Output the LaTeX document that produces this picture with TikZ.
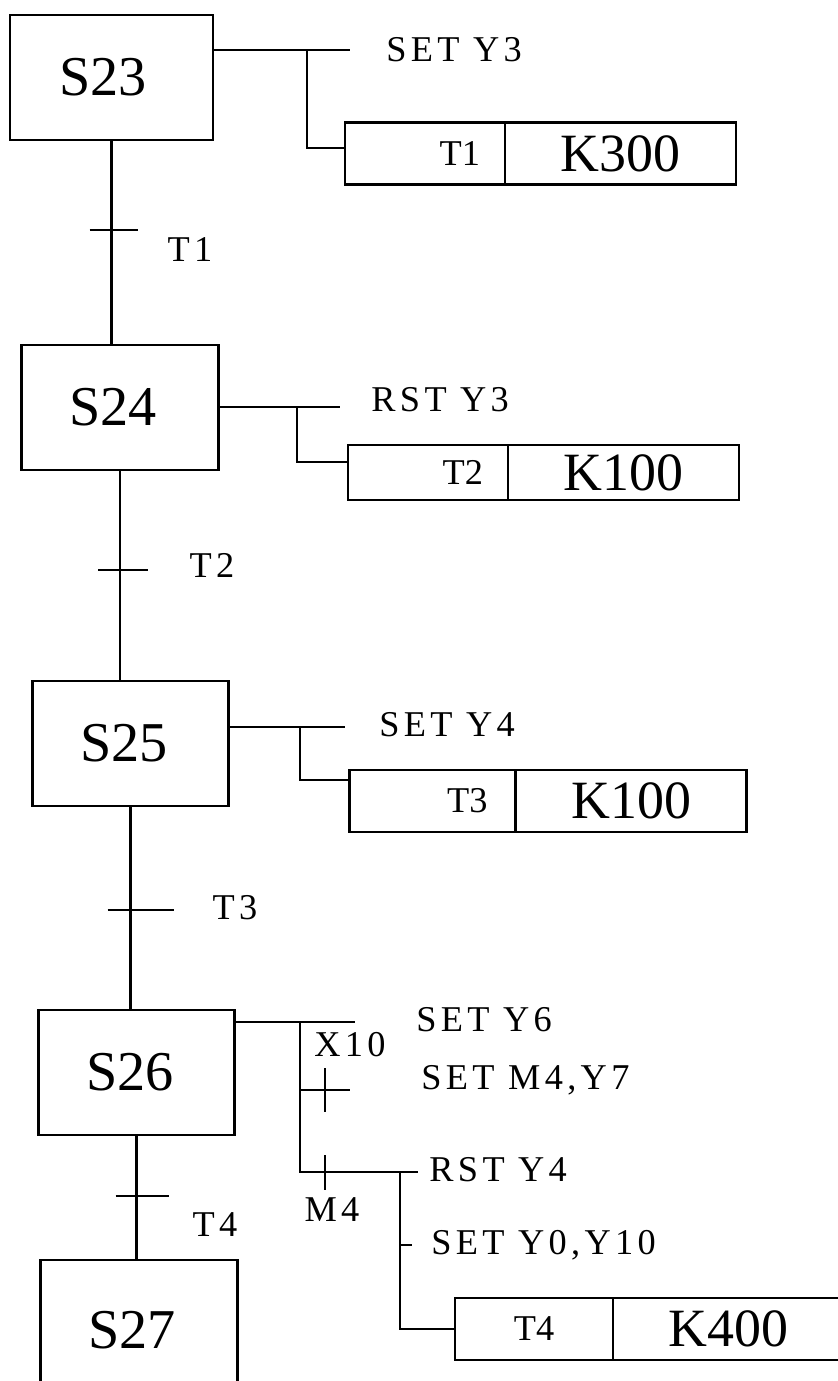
\documentclass[tikz,border=0pt]{standalone}
\usepackage{fontspec}
\setmainfont{Liberation Serif}
\newfontfamily\plcfont[LetterSpace=12]{Liberation Serif}
\usetikzlibrary{positioning}

\begin{document}
\begin{tikzpicture}[x=0.03cm,y=-0.03cm,line width=2.4pt,
  stepbox/.style={draw,outer sep=0pt,minimum width=5.9cm,minimum height=3.75cm,font=\fontsize{48}{48}\selectfont},
  tcell/.style={draw,outer sep=0pt,minimum width=4.8cm,minimum height=1.86cm,font=\fontsize{31}{31}\selectfont},
  kcell/.style={draw,outer sep=0pt,minimum width=6.93cm,minimum height=1.86cm,font=\fontsize{46}{46}\selectfont},
  act/.style={anchor=west,inner sep=0pt,font=\fontsize{31}{31}\plcfont},
  lbl/.style={inner sep=0pt,font=\fontsize{31}{31}\plcfont}]
\useasboundingbox (0,0) rectangle (837,1381);
% steps
\node[stepbox,minimum width=6.09cm] (S23) at (111.5,77.5) {S23\hspace*{0.5cm}};
\node[stepbox] (S24) at (120,407.5) {S24\hspace*{0.4cm}};
\node[stepbox] (S25) at (130.5,743.5) {S25\hspace*{0.4cm}};
\node[stepbox] (S26) at (136.5,1072.5) {S26\hspace*{0.4cm}};
\node[stepbox,minimum height=4.2cm] (S27) at (139,1330) {S27\hspace*{0.4cm}};
% transitions
\draw (S23.south) -- (S23.south |- S24.north);
\draw (S24.south) -- (S24.south |- S25.north);
\draw (S25.south) -- (S25.south |- S26.north);
\draw (S26.south) -- (S26.south |- S27.north);
\coordinate (tr1) at (S23.south |- 0,230);
\coordinate (tr2) at (S24.south |- 0,570);
\coordinate (tr3) at (S25.south |- 0,910);
\coordinate (tr4) at (S26.south |- 0,1196);
\draw (tr1) ++(-22,0) -- ++(48,0);
\draw (tr2) ++(-22,0) -- ++(50,0);
\draw (tr3) ++(-23,0) -- ++(66,0);
\draw (tr4) ++(-21,0) -- ++(53,0);
\node[lbl] (l1) at (190,250) {T1};
\node[lbl] (l2) at (212,565) {T2};
\node[lbl] (l3) at (235,908) {T3};
\node[lbl] (l4) at (215,1225) {T4};
% S23 actions
\node[act] (a23) at (385,50) {SET Y3};
\node[tcell,text width=3.3cm,inner xsep=0.75cm,align=right] (T1c) at (425,153.5) {T1};
\node[kcell,right=0pt of T1c] (K1c) {K300};
\coordinate (e23) at (350,50);
\coordinate (b23) at (307,50);
\draw (S23.east |- e23) -- (e23);
\draw (b23) |- (T1c.west |- 0,148);
% S24 actions
\node[act] (a24) at (370,400) {RST Y3};
\node[tcell,minimum height=1.65cm,text width=3.3cm,inner xsep=0.7cm,align=right] (T2c) at (428,472.5) {T2};
\node[kcell,minimum height=1.65cm,right=0pt of T2c] (K2c) {K100};
\coordinate (e24) at (340,407);
\coordinate (b24) at (297,407);
\draw (S24.east |- e24) -- (e24);
\draw (b24) |- (T2c.west |- 0,462);
% S25 actions
\node[act] (a25) at (378,725) {SET Y4};
\node[tcell,text width=3.3cm,inner xsep=0.85cm,align=right] (T3c) at (432.5,801) {T3};
\node[kcell,right=0pt of T3c] (K3c) {K100};
\coordinate (e25) at (345,727);
\coordinate (b25) at (300,727);
\draw (S25.east |- e25) -- (e25);
\draw (b25) |- (T3c.west |- 0,780);
% S26 actions
\node[act] (a26a) at (415,1020) {SET Y6};
\node[act] (a26b) at (420,1080) {SET M4,Y7};
\node[act] (a26c) at (428,1170) {RST Y4};
\node[act] (a26d) at (430,1245) {SET Y0,Y10};
\node[lbl] (x10) at (350,1045) {X10};
\node[lbl] (m4) at (332,1210) {M4};
\node[tcell,minimum width=4.74cm] (T4c) at (534,1329) {T4};
\node[kcell,right=0pt of T4c] (K4c) {K400};
\coordinate (e26) at (355,1022);
\coordinate (b26) at (300,1022);
\coordinate (c26) at (300,1172);
\coordinate (d26) at (400,1172);
\draw (S26.east |- e26) -- (e26);
\draw (b26) -- (c26) -- (418,1172);
\draw (b26 |- 0,1090) -- ++(50,0);
\draw (325,1068) -- (325,1112);
\draw (325,1155) -- (325,1190);
\draw (d26) |- (T4c.west);
\draw (d26 |- 0,1245) -- ++(12,0);
\end{tikzpicture}
\end{document}
